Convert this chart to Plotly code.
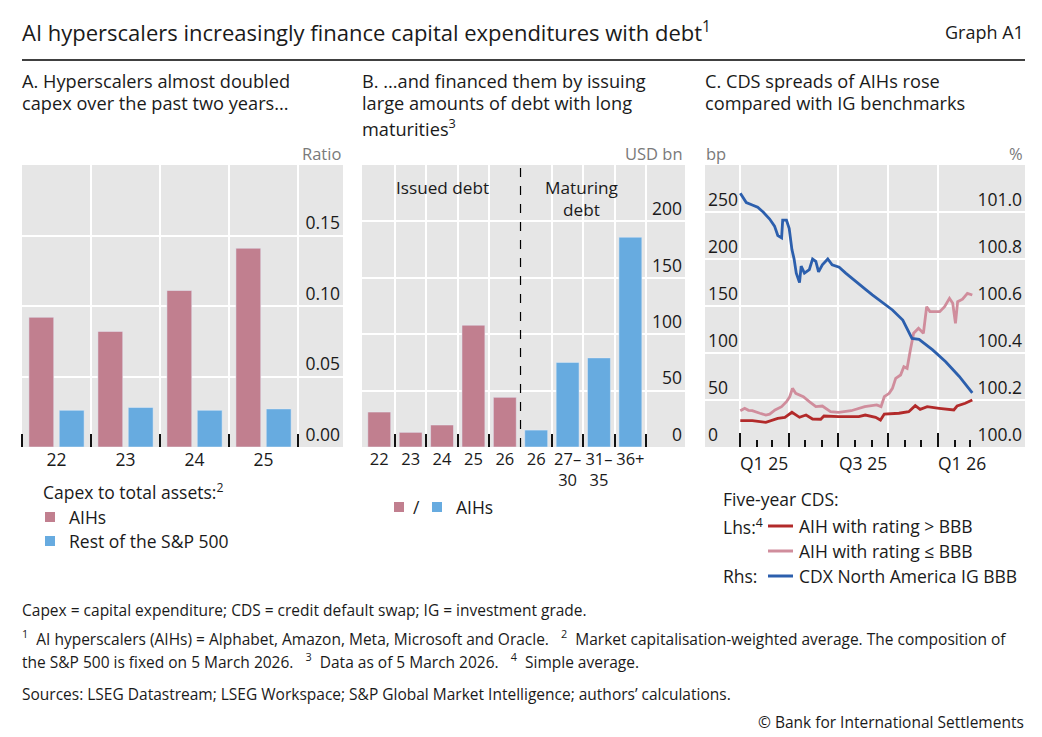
import plotly.graph_objects as go

W, H = 1042, 737
FONT = "Open Sans"

# A. capex to total assets (ratio)
capex_years = ["22", "23", "24", "25"]
capex_aihs = [0.092, 0.082, 0.111, 0.141]
capex_rest = [0.026, 0.028, 0.026, 0.027]

# B. issued and maturing debt (USD bn)
issued_years = ["22", "23", "24", "25", "26"]
issued_debt = [31, 13, 19.5, 108, 44]
maturity_buckets = ["26", "27–<br>30", "31–<br>35", "36+"]
maturing_debt = [15, 75, 79, 186]

# C. five-year CDS (bp, lhs) and CDX North America IG BBB (%, rhs)
hi_dates = ["2025-01-02", "2025-01-24", "2025-02-18", "2025-03-12", "2025-03-25", "2025-04-07",
            "2025-04-21", "2025-05-03", "2025-05-15", "2025-05-30", "2025-06-05", "2025-07-02",
            "2025-08-08", "2025-08-20", "2025-09-08", "2025-09-17", "2025-09-24", "2025-10-21",
            "2025-11-08", "2025-11-20", "2025-11-29", "2025-12-12", "2026-01-03", "2026-01-30",
            "2026-02-05", "2026-02-20", "2026-03-05"]
aih_hi = [28.0, 28.0, 26.3, 30.5, 31.6, 36.9,
          31.6, 34.0, 29.8, 29.5, 33.0, 32.3,
          32.3, 34.0, 31.6, 28.7, 35.1, 35.9,
          37.6, 44.0, 40.1, 42.9, 41.2, 39.4,
          43.6, 46.5, 50.0]

lo_dates = ["2025-01-02", "2025-01-10", "2025-01-17", "2025-01-24", "2025-02-07", "2025-02-18",
            "2025-02-25", "2025-03-07", "2025-03-19", "2025-03-28", "2025-04-03", "2025-04-08",
            "2025-04-14", "2025-04-28", "2025-05-09", "2025-05-21", "2025-06-02", "2025-06-17",
            "2025-07-02", "2025-07-25", "2025-08-19", "2025-09-10", "2025-09-18", "2025-09-24",
            "2025-10-03", "2025-10-09", "2025-10-15", "2025-10-24", "2025-10-30", "2025-11-05",
            "2025-11-11", "2025-11-17", "2025-11-26", "2025-12-05", "2025-12-11", "2025-12-17",
            "2026-01-04", "2026-01-13", "2026-01-22", "2026-01-28", "2026-02-02", "2026-02-06",
            "2026-02-15", "2026-02-24", "2026-03-05"]
aih_lo = [38.6, 41.2, 39.0, 38.6, 35.9, 34.0,
          35.0, 39.4, 42.9, 48.2, 53.5, 62.4,
          57.1, 53.5, 48.2, 42.9, 43.6, 37.6,
          36.9, 38.6, 42.9, 44.7, 42.9, 53.5,
          57.1, 62.4, 73.1, 76.6, 85.4, 83.7,
          103.2, 121.0, 126.3, 121.0, 149.3, 144.0,
          144.0, 149.3, 158.2, 152.9, 131.6, 154.6,
          157.2, 163.5, 161.7]

cdx_dates = ["2025-01-02", "2025-01-13", "2025-01-24", "2025-02-03", "2025-02-13", "2025-02-25",
             "2025-03-06", "2025-03-12", "2025-03-19", "2025-03-21", "2025-03-28", "2025-04-02",
             "2025-04-07", "2025-04-11", "2025-04-15", "2025-04-21", "2025-04-24", "2025-04-30",
             "2025-05-09", "2025-05-15", "2025-05-21", "2025-05-26", "2025-06-02", "2025-06-12",
             "2025-06-20", "2025-07-03", "2025-07-15", "2025-08-04", "2025-08-21", "2025-09-02",
             "2025-09-15", "2025-09-19", "2025-09-25", "2025-10-09", "2025-10-28", "2025-11-10",
             "2025-11-14", "2025-11-27", "2025-12-22", "2026-01-15", "2026-02-09", "2026-03-05"]
cdx_bbb = [101.08, 101.04, 101.03, 101.02, 101.00, 100.97,
           100.94, 100.90, 100.89, 100.965, 100.965, 100.93,
           100.84, 100.80, 100.74, 100.70, 100.77, 100.74,
           100.755, 100.80, 100.79, 100.745, 100.775, 100.80,
           100.775, 100.765, 100.74, 100.70, 100.67, 100.647,
           100.625, 100.62, 100.61, 100.583, 100.54, 100.477,
           100.462, 100.458, 100.413, 100.363, 100.30, 100.23]

quarter_starts = ["2025-01-01", "2025-04-01", "2025-07-01", "2025-10-01", "2026-01-01"]
month_starts = ["2025-02-01", "2025-03-01", "2025-05-01", "2025-06-01", "2025-08-01", "2025-09-01",
                "2025-11-01", "2025-12-01", "2026-02-01", "2026-03-01"]
quarter_labels = ["Q1 25", "Q3 25", "Q1 26"]
quarter_label_pos = ["2025-02-14", "2025-08-16", "2026-02-14"]

PINK = "#c17f8f"
LIGHTBLUE = "#67abe0"
RED = "#b22a2a"
LIGHTPINK = "#d08d9c"
DARKBLUE = "#2c5fad"
GRID = "white"
TXT = "#1a1a1a"
GREY = "#7a7a7a"


def px(x):
    return x / W


def py(y):
    return 1 - y / H


fig = go.Figure()

# Panel A
n_a = len(capex_years)
fig.add_trace(go.Bar(x=list(range(n_a)), y=capex_aihs, width=0.36, offset=-0.40,
                     marker_color=PINK, xaxis="x", yaxis="y", name="AIHs"))
fig.add_trace(go.Bar(x=list(range(n_a)), y=capex_rest, width=0.36, offset=0.04,
                     marker_color=LIGHTBLUE, xaxis="x", yaxis="y", name="Rest of the S&P 500"))

# Panel B
n_i = len(issued_years)
n_m = len(maturity_buckets)
fig.add_trace(go.Bar(x=list(range(n_i)), y=issued_debt, width=0.73,
                     marker_color=PINK, xaxis="x2", yaxis="y2", name="Issued"))
fig.add_trace(go.Bar(x=list(range(n_i, n_i + n_m)), y=maturing_debt, width=0.73,
                     marker_color=LIGHTBLUE, xaxis="x2", yaxis="y2", name="AIHs"))

# Panel C
fig.add_trace(go.Scatter(x=lo_dates, y=aih_lo, mode="lines", line=dict(color=LIGHTPINK, width=2.8),
                         xaxis="x3", yaxis="y3", name="AIH with rating ≤ BBB"))
fig.add_trace(go.Scatter(x=hi_dates, y=aih_hi, mode="lines", line=dict(color=RED, width=2.8),
                         xaxis="x3", yaxis="y3", name="AIH with rating > BBB"))
fig.add_trace(go.Scatter(x=cdx_dates, y=cdx_bbb, mode="lines", line=dict(color=DARKBLUE, width=2.8),
                         xaxis="x3", yaxis="y4", name="CDX North America IG BBB"))

tickfont = dict(family=FONT, size=17.5, color=TXT)
xtickfont_b = dict(family=FONT, size=16.5, color=TXT)
ydom = [py(447), py(165)]

minor_a = dict(tickvals=[i - 0.5 for i in range(n_a + 1)], ticks="inside", ticklen=13, tickwidth=2,
               tickcolor="#111", showgrid=True, gridcolor=GRID, gridwidth=1.5)
minor_b = dict(tickvals=[i + 0.5 for i in range(n_i + n_m) if i != n_i - 1], ticks="inside",
               ticklen=13, tickwidth=2, tickcolor="#111", showgrid=True, gridcolor=GRID, gridwidth=1.5)

fig.update_layout(
    width=W, height=H, margin=dict(l=0, r=0, t=0, b=0),
    paper_bgcolor="white", plot_bgcolor="#e6e6e6",
    showlegend=False, barmode="overlay",
    font=dict(family=FONT, color=TXT),
    xaxis=dict(domain=[px(22), px(343)], anchor="y", range=[-0.5, 4.152],
               tickvals=list(range(n_a)), ticktext=capex_years, ticks="", showgrid=False,
               tickangle=0, zeroline=False, tickfont=tickfont, minor=minor_a),
    yaxis=dict(domain=ydom, anchor="x", side="right", range=[0, 0.2],
               tickvals=[0, 0.05, 0.10, 0.15], tickformat=".2f", ticklabelposition="inside top",
               ticks="", showgrid=True, gridcolor=GRID, gridwidth=1.5, zeroline=False, tickfont=tickfont),
    xaxis2=dict(domain=[px(362), px(685)], anchor="y2", range=[-0.55, 9.74],
                tickvals=list(range(n_i + n_m)), ticktext=issued_years + maturity_buckets, ticks="",
                tickangle=0, showgrid=False, zeroline=False, tickfont=xtickfont_b, minor=minor_b),
    yaxis2=dict(domain=ydom, anchor="x2", side="right", range=[0, 250],
                tickvals=[0, 50, 100, 150, 200], ticklabelposition="inside top",
                ticks="", showgrid=True, gridcolor=GRID, gridwidth=1.5, zeroline=False, tickfont=tickfont),
    xaxis3=dict(domain=[px(705), px(1025)], anchor="y3", type="date",
                range=["2024-10-29", "2026-06-10"],
                tickvals=quarter_starts, showticklabels=False,
                ticks="inside", ticklen=14, tickwidth=2, tickcolor="#111",
                showgrid=True, gridcolor=GRID, gridwidth=1.5, zeroline=False,
                minor=dict(tickvals=month_starts, ticks="inside", ticklen=7, tickwidth=1.5,
                           tickcolor="#111", showgrid=False)),
    yaxis3=dict(domain=ydom, anchor="x3", side="left", range=[0, 300],
                tickvals=[0, 50, 100, 150, 200, 250], ticklabelposition="inside top",
                ticks="", showgrid=True, gridcolor=GRID, gridwidth=1.5, zeroline=False, tickfont=tickfont),
    yaxis4=dict(overlaying="y3", anchor="x3", side="right", range=[100.0, 101.2],
                tickvals=[100.0, 100.2, 100.4, 100.6, 100.8, 101.0], tickformat=".1f",
                ticklabelposition="inside top", ticks="", showgrid=False, zeroline=False, tickfont=tickfont),
)

shapes = [
    # rule under the title
    dict(type="line", xref="paper", yref="paper", x0=px(22), x1=px(1025), y0=py(60), y1=py(60),
         line=dict(color="black", width=1.5)),
    # issued / maturing divider
    dict(type="line", xref="x2", yref="y2 domain", x0=n_i - 0.5, x1=n_i - 0.5, y0=0, y1=1,
         line=dict(color="black", width=1.2, dash="dash")),
]


def square(x0, yc, color, size=10):
    return dict(type="rect", xref="paper", yref="paper", x0=px(x0), x1=px(x0 + size),
                y0=py(yc + size / 2), y1=py(yc - size / 2), fillcolor=color, line=dict(width=0))


def seg(x0, x1, yc, color):
    return dict(type="line", xref="paper", yref="paper", x0=px(x0), x1=px(x1), y0=py(yc), y1=py(yc),
                line=dict(color=color, width=3))


shapes += [
    square(45, 517, PINK), square(45, 541, LIGHTBLUE),
    square(394, 507, PINK), square(432, 507, LIGHTBLUE),
    seg(768, 793, 526, RED), seg(768, 793, 551, LIGHTPINK), seg(768, 793, 576, DARKBLUE),
]

annotations = []


def note(text, x, y, size=15, xanchor="left", yanchor="middle", color=TXT, xref="paper", align="left"):
    annotations.append(dict(text=text, x=px(x) if xref == "paper" else x, y=py(y), xref=xref,
                            yref="paper", xanchor=xanchor, yanchor=yanchor, showarrow=False,
                            align=align, font=dict(family=FONT, size=size, color=color)))


note("AI hyperscalers increasingly finance capital expenditures with debt<sup>1</sup>", 20, 31, size=22)
note("Graph A1", 1026, 32, size=18, xanchor="right")

PT = 18.2
note("A. Hyperscalers almost doubled", 20, 81, size=PT)
note("capex over the past two years...", 20, 103, size=PT)
note("B. ...and financed them by issuing", 360, 81, size=PT)
note("large amounts of debt with long", 360, 103, size=PT)
note("maturities<sup>3</sup>", 360, 127, size=PT)
note("C. CDS spreads of AIHs rose", 703, 81, size=PT)
note("compared with IG benchmarks", 703, 103, size=PT)

note("Ratio", 343, 154, size=16.5, xanchor="right", color=GREY)
note("USD bn", 685, 154, size=16.5, xanchor="right", color=GREY)
note("bp", 704, 154, size=16.5, color=GREY)
note("%", 1025, 154, size=16.5, xanchor="right", color=GREY)

note("Issued debt", 2.0, 187, size=17.2, xanchor="center", xref="x2")
note("Maturing<br>debt", 6.45, 198, size=17.2, xanchor="center", xref="x2", align="center")

for lab, pos in zip(quarter_labels, quarter_label_pos):
    note(lab, pos, 463, size=17.5, xanchor="center", xref="x3")

LG = 17.5
note("Capex to total assets:<sup>2</sup>", 41, 492, size=LG)
note("AIHs", 67, 517, size=LG)
note("Rest of the S&P 500", 67, 541, size=LG)

note("/", 416, 507, size=LG, xanchor="center")
note("AIHs", 454, 507, size=LG)

note("Five-year CDS:", 721, 499, size=LG)
note("Lhs:<sup>4</sup>", 721, 526, size=LG)
note("AIH with rating > BBB", 797, 526, size=LG)
note("AIH with rating ≤ BBB", 797, 551, size=LG)
note("Rhs:", 721, 576, size=LG)
note("CDX North America IG BBB", 797, 576, size=LG)

FN = 15.5
note("Capex = capital expenditure; CDS = credit default swap; IG = investment grade.", 20, 610, size=FN)
note("<sup>1</sup>  AI hyperscalers (AIHs) = Alphabet, Amazon, Meta, Microsoft and Oracle.   "
     "<sup>2</sup>  Market capitalisation-weighted average. The composition of", 20, 638, size=FN)
note("the S&P 500 is fixed on 5 March 2026.   <sup>3</sup>  Data as of 5 March 2026.   "
     "<sup>4</sup>  Simple average.", 20, 661, size=FN)
note("Sources: LSEG Datastream; LSEG Workspace; S&P Global Market Intelligence; authors’ calculations.",
     20, 694, size=FN)
note("© Bank for International Settlements", 1026, 722, size=FN, xanchor="right")

fig.update_layout(shapes=shapes, annotations=annotations)

# drop the browser's default body margin so the figure sits at the page origin
fig.write_html("out.html", config={"displayModeBar": False},
               post_script="document.body.style.margin='0';")
